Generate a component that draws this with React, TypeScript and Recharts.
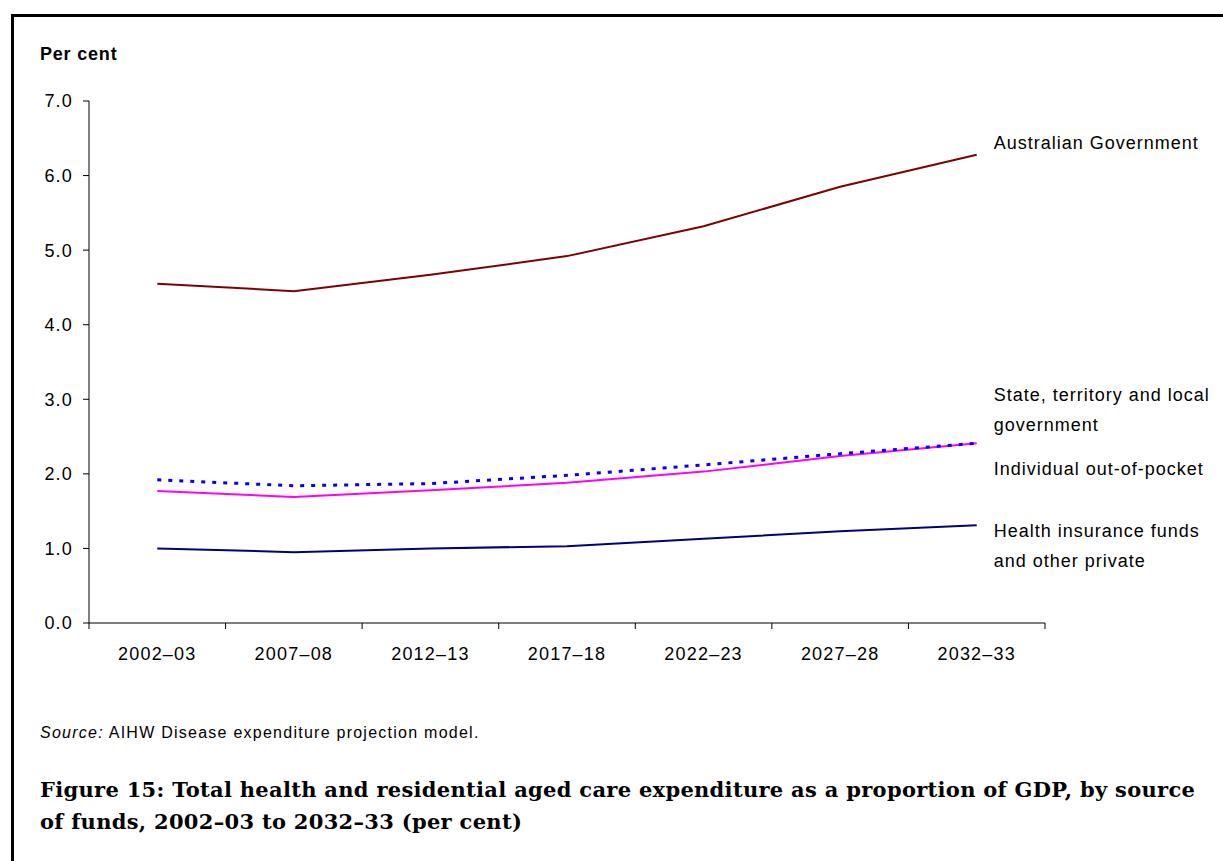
import React from 'react';
import { LineChart, Line, XAxis, YAxis } from 'recharts';

// financial years on the x axis
const periods = ['2002–03', '2007–08', '2012–13', '2017–18', '2022–23', '2027–28', '2032–33'];

// per cent of GDP, by source of funds
const australianGovt = [4.55, 4.45, 4.67, 4.92, 5.32, 5.85, 6.28];
const stateLocalGovt = [1.92, 1.84, 1.87, 1.98, 2.12, 2.27, 2.41];
const outOfPocket = [1.77, 1.69, 1.78, 1.88, 2.03, 2.24, 2.41];
const insuranceOther = [1.0, 0.95, 1.0, 1.03, 1.13, 1.23, 1.31];

const yTicks = [0, 1, 2, 3, 4, 5, 6, 7];
// band edges sit half a step either side of each period
const bandEdges = [-0.5, 0.5, 1.5, 2.5, 3.5, 4.5, 5.5, 6.5];
const centreTicks = periods.map((_, i) => i);

const data = periods.map((p, i) => ({
  idx: i,
  period: p,
  aus: australianGovt[i],
  state: stateLocalGovt[i],
  oop: outOfPocket[i],
  ins: insuranceOther[i],
}));

const textFont = '"Liberation Sans", Arial, sans-serif';

const endLabel = (lines: string[], dy: number) => (props: any) => {
  if (props.index !== data.length - 1) return null;
  return (
    <text
      x={props.x + 17}
      y={props.y + dy}
      fill="#000"
      fontSize={18}
      letterSpacing={1}
      fontFamily={textFont}
      dominantBaseline="central"
    >
      {lines.map((l, i) => (
        <tspan key={i} x={props.x + 17} dy={i === 0 ? 0 : 30}>
          {l}
        </tspan>
      ))}
    </text>
  );
};

const App: React.FC = () => {
  return (
    <div style={{ position: 'absolute', left: 0, top: 0, width: 1223, height: 861, overflow: 'hidden', background: '#fff' }}>
      <div
        style={{
          position: 'absolute', left: 11, top: 14, width: 1400, height: 1000,
          borderTop: '3px solid #000', borderLeft: '3px solid #000',
        }}
      />
      <div
        style={{
          position: 'absolute', left: 40, top: 44, fontFamily: textFont, fontWeight: 700,
          fontSize: 18, letterSpacing: 0.8, color: '#000',
        }}
      >
        Per cent
      </div>
      <div style={{ position: 'absolute', left: 0, top: 0 }}>
        <LineChart width={1223} height={700} data={data} margin={{ top: 101, right: 178, left: 29, bottom: 37 }}>
          <XAxis
            dataKey="idx"
            type="number"
            domain={[-0.5, 6.5]}
            ticks={bandEdges}
            height={1}
            tickFormatter={() => ''}
            tickSize={6}
            stroke="#000"
            tickLine={{ stroke: '#000' }}
            axisLine={{ stroke: '#000' }}
          />
          <XAxis
            xAxisId="labels"
            dataKey="idx"
            type="number"
            domain={[-0.5, 6.5]}
            ticks={centreTicks}
            height={39}
            axisLine={false}
            tickLine={false}
            tickMargin={17}
            tickFormatter={(v: number) => periods[v]}
            tick={{ fill: '#000', fontSize: 18, fontFamily: textFont, letterSpacing: 1.2 }}
          />
          <YAxis
            domain={[0, 7]}
            ticks={yTicks}
            width={60}
            tickSize={6}
            tickMargin={10}
            tickFormatter={(v: number) => v.toFixed(1)}
            axisLine={{ stroke: '#000' }}
            tickLine={{ stroke: '#000' }}
            tick={{ fill: '#000', fontSize: 18, fontFamily: textFont, letterSpacing: 1.2 }}
          />
          <Line
            dataKey="aus"
            stroke="#800000"
            strokeWidth={2}
            dot={false}
            isAnimationActive={false}
            label={endLabel(['Australian Government'], -12)}
          />
          <Line
            dataKey="ins"
            stroke="#000080"
            strokeWidth={2}
            dot={false}
            isAnimationActive={false}
            label={endLabel(['Health insurance funds', 'and other private'], 6)}
          />
          <Line
            dataKey="oop"
            stroke="#ff00ff"
            strokeWidth={2}
            dot={false}
            isAnimationActive={false}
            label={endLabel(['Individual out-of-pocket'], 26)}
          />
          <Line
            dataKey="state"
            stroke="#0000ff"
            strokeWidth={3}
            strokeDasharray="4 7"
            dot={false}
            isAnimationActive={false}
            label={endLabel(['State, territory and local', 'government'], -48)}
          />
        </LineChart>
      </div>
      <div
        style={{
          position: 'absolute', left: 40, top: 724, fontFamily: textFont, fontSize: 16,
          letterSpacing: 1.25, color: '#000',
        }}
      >
        <i>Source:</i> AIHW Disease expenditure projection model.
      </div>
      <div
        style={{
          position: 'absolute', left: 40, top: 774, fontFamily: '"DejaVu Serif", "Liberation Serif", serif',
          fontWeight: 700, fontSize: 21, letterSpacing: 0.3, lineHeight: '32px', color: '#000', whiteSpace: 'nowrap',
        }}
      >
        Figure 15: Total health and residential aged care expenditure as a proportion of GDP, by source
        <br />
        of funds, 2002–03 to 2032–33 (per cent)
      </div>
    </div>
  );
};

export default App;
